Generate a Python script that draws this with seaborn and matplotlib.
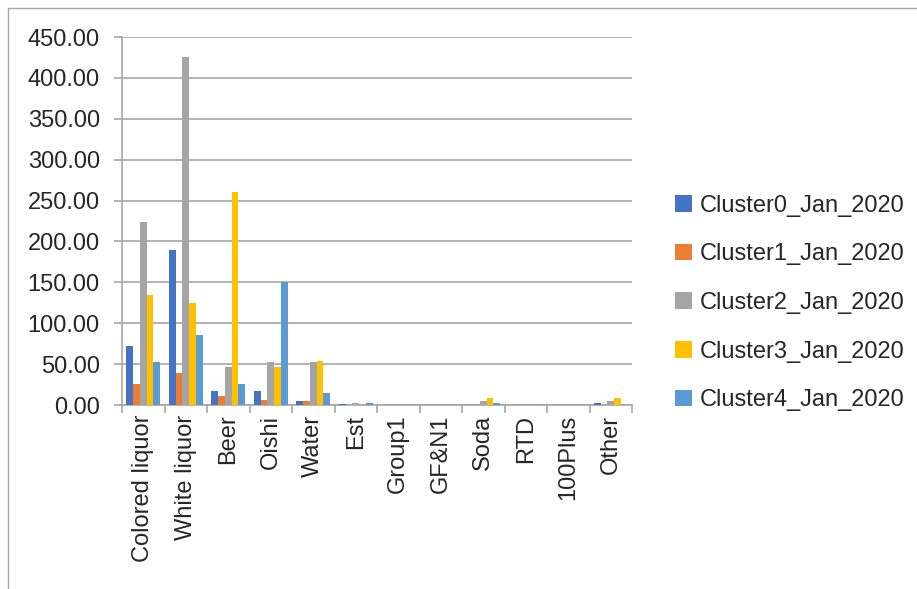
import matplotlib
matplotlib.use("Agg")
import matplotlib.pyplot as plt
from matplotlib.patches import Rectangle
import seaborn as sns
import pandas as pd

categories = ["Colored liquor", "White liquor", "Beer", "Oishi", "Water", "Est",
              "Group1", "GF&N1", "Soda", "RTD", "100Plus", "Other"]
series_names = ["Cluster0_Jan_2020", "Cluster1_Jan_2020", "Cluster2_Jan_2020",
                "Cluster3_Jan_2020", "Cluster4_Jan_2020"]
cluster0 = [72, 190, 17, 17, 5, 1.5, 0, 0, 0.5, 0, 0, 2]
cluster1 = [25.5, 39, 11, 6, 5, 0.3, 0, 0, 0.3, 0, 0, 0.3]
cluster2 = [224, 426, 47, 52, 52, 2.5, 0, 0, 4.5, 1, 0, 4.5]
cluster3 = [134, 125, 260, 46, 54, 0.3, 0, 0, 8, 0, 0, 9]
cluster4 = [52, 85, 26, 151, 15, 3, 0, 0, 2, 0, 0, 0.5]
y_ticks = [0, 50, 100, 150, 200, 250, 300, 350, 400, 450]
colors = ["#4472C4", "#ED7D31", "#A5A5A5", "#FFC000", "#5B9BD5"]

rows = []
for name, vals in zip(series_names, [cluster0, cluster1, cluster2, cluster3, cluster4]):
    for cat, v in zip(categories, vals):
        rows.append({"category": cat, "series": name, "value": v})
df = pd.DataFrame(rows)

sns.set_style("white")
plt.rcParams["font.family"] = ["Liberation Sans", "DejaVu Sans"]

fig = plt.figure(figsize=(9.17, 5.89), dpi=100)
ax = fig.add_axes([122 / 917, 1 - 405 / 589, 510 / 917, 368 / 589])

sns.barplot(data=df, x="category", y="value", hue="series", order=categories,
            hue_order=series_names, palette=colors, width=0.79, gap=0,
            saturation=1, errorbar=None, linewidth=0, ax=ax, zorder=3)

ax.set_ylim(0, 450)
ax.set_xlim(-0.5, len(categories) - 0.5)
ax.set_yticks(y_ticks)
ax.set_yticklabels([f"{t:.2f}" for t in y_ticks], fontsize=17)
ax.yaxis.grid(True, color="#A6A6A6", linewidth=1.2, zorder=0)
ax.set_axisbelow(True)
ax.set_xlabel("")
ax.set_ylabel("")

ax.set_xticks(range(len(categories)))
ax.set_xticklabels(categories, rotation=90, fontsize=17)
ax.tick_params(axis="x", length=0, pad=7)
ax.tick_params(axis="y", length=6, width=1.2, color="#A6A6A6", pad=10, left=True, direction="out")

# category separators below the axis line
ax.set_xticks([i - 0.5 for i in range(len(categories) + 1)], minor=True)
ax.tick_params(axis="x", which="minor", length=6, width=1.2, color="#A6A6A6",
               bottom=True, direction="out")

for side in ["top", "right"]:
    ax.spines[side].set_visible(False)
for side in ["left", "bottom"]:
    ax.spines[side].set_color("#A6A6A6")
    ax.spines[side].set_linewidth(1.2)

handles, labels = ax.get_legend_handles_labels()
ax.legend(handles, labels, loc="center left", bbox_to_anchor=(675 / 917, 1 - 303 / 589),
          bbox_transform=fig.transFigure, frameon=False, fontsize=17,
          handlelength=0.7, handleheight=0.7, handletextpad=0.35, labelspacing=1.13,
          borderaxespad=0, borderpad=0)

# chart area border
fig.patches.append(Rectangle((8 / 917, -0.1), 1.2, 1 - 8 / 589 + 0.1,
                             transform=fig.transFigure, fill=False,
                             edgecolor="#A6A6A6", linewidth=1.0))

fig.savefig("out.png", dpi=100)
